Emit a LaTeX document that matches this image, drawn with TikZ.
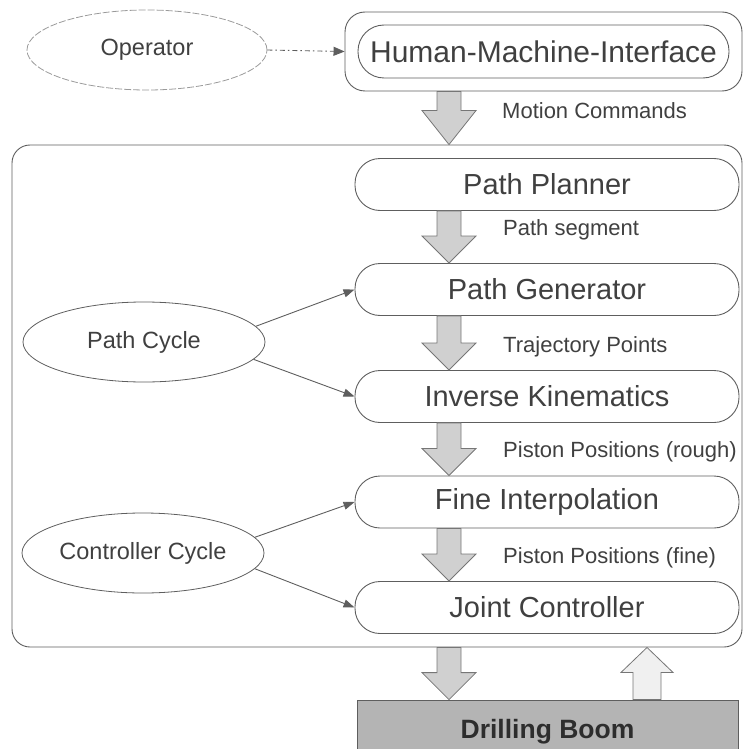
\documentclass[tikz,border=0pt]{standalone}
\usepackage{fontspec}
\setmainfont{Liberation Sans}
\usetikzlibrary{shapes.geometric,arrows.meta,calc}
\definecolor{txt}{HTML}{404040}
\definecolor{ln}{HTML}{5E5E5E}
\definecolor{lite}{HTML}{9A9A9A}
\definecolor{fat}{HTML}{D0D0D0}
\definecolor{fatup}{HTML}{F0F0F0}
\definecolor{boomfill}{HTML}{B4B4B4}
% #2 top point, #3 tip point, #4 head length
\newcommand\fatdown[4][fatarrow]{\draw[#1] let \p1=(#2), \p2=(#3) in
  (\x1-12pt,\y1) -- (\x1+12pt,\y1) -- (\x1+12pt,\y2+#4) -- (\x1+27pt,\y2+#4) --
  (\x1,\y2) -- (\x1-27pt,\y2+#4) -- (\x1-12pt,\y2+#4) -- cycle;}
\newcommand\fatupw[4][fatarrow]{\draw[#1] let \p1=(#2), \p2=(#3) in
  (\x1-14pt,\y1) -- (\x1+14pt,\y1) -- (\x1+14pt,\y2-#4) -- (\x1+26pt,\y2-#4) --
  (\x1,\y2) -- (\x1-26pt,\y2-#4) -- (\x1-14pt,\y2-#4) -- cycle;}
\begin{document}
\begin{tikzpicture}[x=1pt,y=1pt,
  bigbox/.style={draw=ln, line width=0.9pt, rounded corners=25pt,
    minimum width=384pt, minimum height=52pt, inner sep=0pt, text=txt,
    font=\fontsize{29}{32}\selectfont},
  cyc/.style={draw=ln, line width=0.8pt, ellipse, minimum width=242pt,
    minimum height=80pt, inner sep=0pt, text=txt,
    font=\fontsize{23.5}{27}\selectfont},
  lbl/.style={text=txt, inner sep=0pt, font=\fontsize{22}{26}\selectfont},
  fatarrow/.style={draw=ln!85, line width=0.8pt, fill=fat},
  fatarrowup/.style={draw=ln!85, line width=0.8pt, fill=fatup},
  cycarrow/.style={draw=ln, line width=0.9pt, -{Triangle[length=11pt,width=8pt]}},
]
\useasboundingbox (0,0) rectangle (745,-749);

% container
\node[draw=ln, line width=0.9pt, rounded corners=18pt, minimum width=730pt,
  minimum height=502pt, inner sep=0pt] (cont) at (377,-396) {};

% top
\node[draw=lite, line width=0.8pt, dash pattern=on 7pt off 2pt, ellipse,
  minimum width=240pt, minimum height=80pt, inner sep=0pt, text=txt,
  font=\fontsize{23.5}{27}\selectfont] (op) at (147,-50) {Operator};
\node[draw=ln, line width=0.9pt, rounded corners=20pt, minimum width=397pt,
  minimum height=79pt, inner sep=0pt] (hmo) at (543.5,-51.5) {};
\node[draw=ln, line width=0.9pt, rounded corners=26pt, minimum width=371pt,
  minimum height=53pt, inner sep=0pt, text=txt,
  font=\fontsize{30}{33}\selectfont] (hmi) at (543.5,-51.5) {Human-Machine-Interface};
\draw[draw=ln, line width=0.9pt, dash pattern=on 5pt off 3pt on 1.5pt off 3pt,
  -{Triangle[length=11pt,width=9pt]}] (op.east) -- (hmo.west);

% main boxes
\node[bigbox] (pp) at (547,-184.5) {Path Planner};
\node[bigbox] (pg) at (547,-289.5) {Path Generator};
\node[bigbox] (ik) at (547,-396.5) {Inverse Kinematics};
\node[bigbox] (fi) at (547,-502) {Fine Interpolation};
\node[bigbox] (jc) at (547,-607.5) {Joint Controller};

% cycles
\node[cyc] (pc) at (144,-342) {Path Cycle};
\node[cyc] (cc) at (143,-553) {Controller Cycle};
\draw[cycarrow] (pc.8) -- (pg.west);
\draw[cycarrow] (pc.-9) -- (ik.west);
\draw[cycarrow] (cc.8) -- (fi.west);
\draw[cycarrow] (cc.-8) -- (jc.west);

% drilling boom
\node[draw=ln, line width=0.8pt, fill=boomfill, minimum width=381pt,
  minimum height=64pt, inner sep=0pt, text=txt!70!black,
  font=\bfseries\fontsize{26.5}{30}\selectfont] (boom) at (547.5,-732) {Drilling Boom};

% fat arrows
\coordinate (ax) at (449,0);
\coordinate (bx) at (647,0);
\fatdown{hmo.south -| ax}{cont.north -| ax}{34pt}
\fatdown{pp.south -| ax}{pg.north -| ax}{27pt}
\fatdown{pg.south -| ax}{ik.north -| ax}{27pt}
\fatdown{ik.south -| ax}{fi.north -| ax}{27pt}
\fatdown{fi.south -| ax}{jc.north -| ax}{27pt}
\fatdown{cont.south -| ax}{boom.north -| ax}{27pt}
\fatupw[fatarrowup]{boom.north -| bx}{cont.south -| bx}{25pt}

% labels
\node[lbl, anchor=base west] (lmc) at (502,-118) {Motion Commands};
\node[lbl, anchor=base west] (lps) at (503,-235) {Path segment};
\node[lbl, anchor=base west] (ltp) at (503,-352) {Trajectory Points};
\node[lbl, anchor=base west] (lpr) at (503,-457) {Piston Positions (rough)};
\node[lbl, anchor=base west] (lpf) at (503,-563) {Piston Positions (fine)};
\end{tikzpicture}
\end{document}
